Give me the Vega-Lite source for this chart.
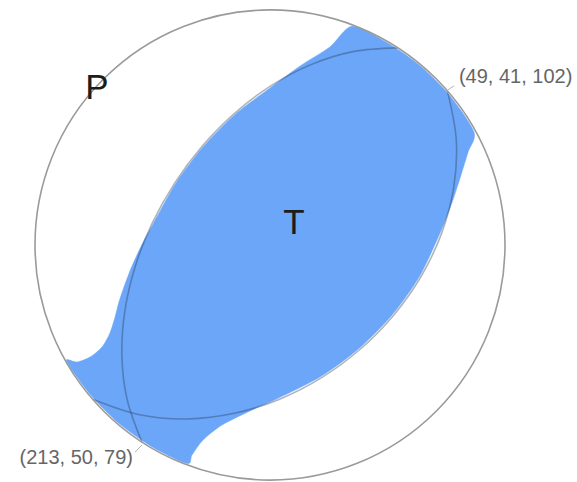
{
  "$schema": "https://vega.github.io/schema/vega-lite/v6.json",
  "width": 470,
  "height": 470,
  "autosize": {"type": "none"},
  "padding": {"left": 35, "top": 10, "right": 72, "bottom": 2},
  "background": "white",
  "config": {"view": {"stroke": null}},
  "datasets": {
    "tension": [
      {"i": 1, "x": 0.350, "y": 0.931},
      {"i": 2, "x": 0.4975, "y": 0.8617},
      {"i": 3, "x": 0.6396, "y": 0.7622},
      {"i": 4, "x": 0.7622, "y": 0.6396},
      {"i": 5, "x": 0.868, "y": 0.481},
      {"i": 6, "x": 0.843, "y": 0.396},
      {"i": 7, "x": 0.813, "y": 0.298},
      {"i": 8, "x": 0.774, "y": 0.179},
      {"i": 9, "x": 0.7232, "y": 0.0500},
      {"i": 10, "x": 0.6375, "y": -0.1306},
      {"i": 11, "x": 0.5217, "y": -0.2946},
      {"i": 12, "x": 0.3810, "y": -0.4382},
      {"i": 13, "x": 0.2192, "y": -0.5577},
      {"i": 14, "x": 0.0407, "y": -0.6493},
      {"i": 15, "x": -0.085, "y": -0.706},
      {"i": 16, "x": -0.204, "y": -0.766},
      {"i": 17, "x": -0.285, "y": -0.830},
      {"i": 18, "x": -0.332, "y": -0.894},
      {"i": 19, "x": -0.353, "y": -0.930},
      {"i": 20, "x": -0.4975, "y": -0.8617},
      {"i": 21, "x": -0.6396, "y": -0.7622},
      {"i": 22, "x": -0.7622, "y": -0.6396},
      {"i": 23, "x": -0.866, "y": -0.495},
      {"i": 24, "x": -0.821, "y": -0.498},
      {"i": 25, "x": -0.766, "y": -0.477},
      {"i": 26, "x": -0.715, "y": -0.434},
      {"i": 27, "x": -0.681, "y": -0.374},
      {"i": 28, "x": -0.660, "y": -0.309},
      {"i": 29, "x": -0.643, "y": -0.243},
      {"i": 30, "x": -0.617, "y": -0.166},
      {"i": 31, "x": -0.587, "y": -0.089},
      {"i": 32, "x": -0.545, "y": 0.002},
      {"i": 33, "x": -0.4966, "y": 0.0909},
      {"i": 34, "x": -0.4016, "y": 0.2608},
      {"i": 35, "x": -0.2850, "y": 0.4168},
      {"i": 36, "x": -0.1494, "y": 0.5547},
      {"i": 37, "x": 0.0031, "y": 0.6702},
      {"i": 38, "x": 0.128, "y": 0.762},
      {"i": 39, "x": 0.255, "y": 0.843}
    ],
    "planes": [
      {"plane": "213/50/79", "rake": 0, "x": -0.5446, "y": -0.8387},
      {"plane": "213/50/79", "rake": 15, "x": -0.6080, "y": -0.6573},
      {"plane": "213/50/79", "rake": 30, "x": -0.6303, "y": -0.4687},
      {"plane": "213/50/79", "rake": 45, "x": -0.6172, "y": -0.2782},
      {"plane": "213/50/79", "rake": 60, "x": -0.5732, "y": -0.0901},
      {"plane": "213/50/79", "rake": 75, "x": -0.5016, "y": 0.0918},
      {"plane": "213/50/79", "rake": 90, "x": -0.4057, "y": 0.2634},
      {"plane": "213/50/79", "rake": 105, "x": -0.2879, "y": 0.4210},
      {"plane": "213/50/79", "rake": 120, "x": -0.1509, "y": 0.5603},
      {"plane": "213/50/79", "rake": 135, "x": 0.0031, "y": 0.6770},
      {"plane": "213/50/79", "rake": 150, "x": 0.1718, "y": 0.7665},
      {"plane": "213/50/79", "rake": 165, "x": 0.3531, "y": 0.8229},
      {"plane": "213/50/79", "rake": 180, "x": 0.5446, "y": 0.8387},
      {"plane": "49/41/102", "rake": 0, "x": 0.7547, "y": 0.6561},
      {"plane": "49/41/102", "rake": 15, "x": 0.7925, "y": 0.4496},
      {"plane": "49/41/102", "rake": 30, "x": 0.7820, "y": 0.2459},
      {"plane": "49/41/102", "rake": 45, "x": 0.7305, "y": 0.0505},
      {"plane": "49/41/102", "rake": 60, "x": 0.6439, "y": -0.1319},
      {"plane": "49/41/102", "rake": 75, "x": 0.5270, "y": -0.2976},
      {"plane": "49/41/102", "rake": 90, "x": 0.3848, "y": -0.4426},
      {"plane": "49/41/102", "rake": 105, "x": 0.2214, "y": -0.5633},
      {"plane": "49/41/102", "rake": 120, "x": 0.0411, "y": -0.6559},
      {"plane": "49/41/102", "rake": 135, "x": -0.1517, "y": -0.7163},
      {"plane": "49/41/102", "rake": 150, "x": -0.3523, "y": -0.7402},
      {"plane": "49/41/102", "rake": 165, "x": -0.5555, "y": -0.7222},
      {"plane": "49/41/102", "rake": 180, "x": -0.7547, "y": -0.6561}
    ],
    "leaders": [
      {"x": 0.757, "y": 0.660, "x2": 0.783, "y2": 0.677},
      {"x": -0.545, "y": -0.851, "x2": -0.574, "y2": -0.881}
    ],
    "planeLabels": [
      {"label": "(49, 41, 102)", "x": 0.804, "y": 0.715, "side": "left"},
      {"label": "(213, 50, 79)", "x": -0.583, "y": -0.906, "side": "right"}
    ],
    "axes": [
      {"label": "P", "x": -0.736, "y": 0.668},
      {"label": "T", "x": 0.102, "y": 0.094}
    ],
    "center": [{"x": 0, "y": 0}]
  },
  "encoding": {
    "x": {"field": "x", "type": "quantitative", "scale": {"domain": [-1, 1], "nice": false, "zero": false}, "axis": null},
    "y": {"field": "y", "type": "quantitative", "scale": {"domain": [-1, 1], "nice": false, "zero": false}, "axis": null}
  },
  "layer": [
    {
      "data": {"name": "tension"},
      "mark": {"type": "line", "interpolate": "cardinal-closed", "tension": 0.2, "fill": "#6ba6f8", "stroke": "#6ba6f8", "strokeWidth": 0.5},
      "encoding": {"order": {"field": "i", "type": "quantitative"}}
    },
    {
      "data": {"name": "planes"},
      "mark": {"type": "line", "interpolate": "cardinal", "stroke": "#2b3a55", "strokeOpacity": 0.38, "strokeWidth": 1.6},
      "encoding": {
        "detail": {"field": "plane", "type": "nominal"},
        "order": {"field": "rake", "type": "quantitative"}
      }
    },
    {
      "data": {"name": "center"},
      "mark": {"type": "point", "shape": "circle", "size": 220900, "filled": false, "stroke": "#9a9a9a", "strokeWidth": 1.6, "opacity": 1}
    },
    {
      "data": {"name": "leaders"},
      "mark": {"type": "rule", "stroke": "#b5b5b5", "strokeWidth": 1},
      "encoding": {
        "x2": {"field": "x2"},
        "y2": {"field": "y2"}
      }
    },
    {
      "data": {"name": "planeLabels"},
      "transform": [{"filter": "datum.side === 'left'"}],
      "mark": {"type": "text", "align": "left", "baseline": "middle", "font": "Liberation Sans", "fontSize": 20, "fill": "#666666"},
      "encoding": {"text": {"field": "label"}}
    },
    {
      "data": {"name": "planeLabels"},
      "transform": [{"filter": "datum.side === 'right'"}],
      "mark": {"type": "text", "align": "right", "baseline": "middle", "font": "Liberation Sans", "fontSize": 20, "fill": "#666666"},
      "encoding": {"text": {"field": "label"}}
    },
    {
      "data": {"name": "axes"},
      "mark": {"type": "text", "align": "center", "baseline": "middle", "font": "Liberation Sans", "fontSize": 35, "fill": "#1c1c1c"},
      "encoding": {"text": {"field": "label"}}
    }
  ]
}
